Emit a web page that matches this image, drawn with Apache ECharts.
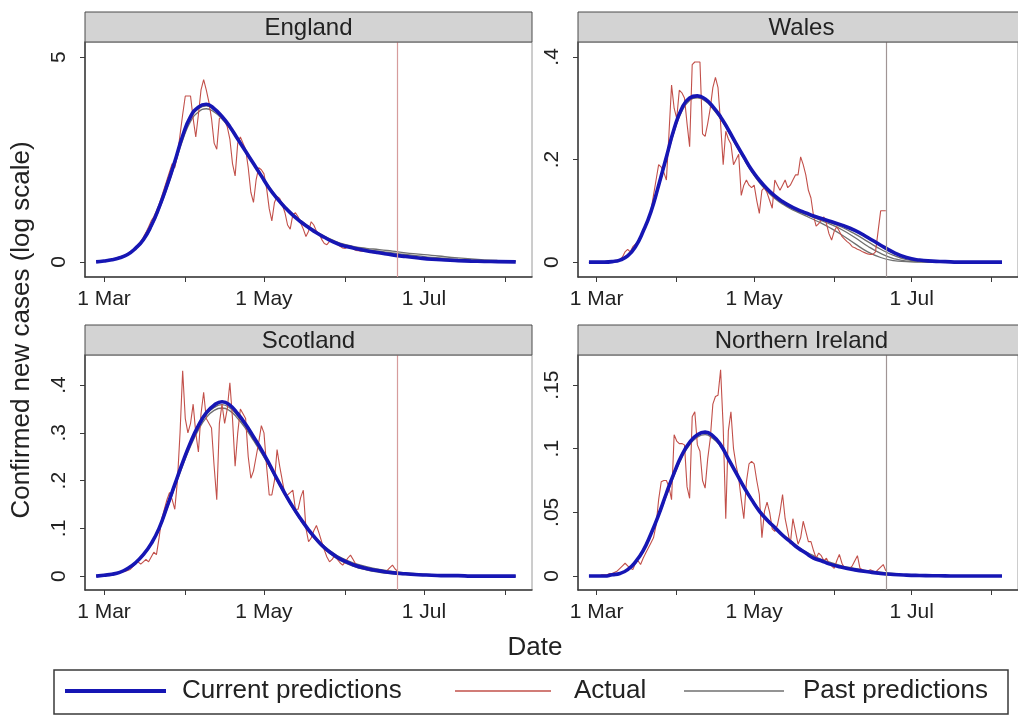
<!DOCTYPE html>
<html>
<head>
<meta charset="utf-8">
<script src="https://cdn.jsdelivr.net/npm/echarts@6/dist/echarts.min.js"></script>
<style>
html,body{margin:0;padding:0;background:#fff;}
#chart{width:1018px;height:717px;}
</style>
</head>
<body>
<div id="chart"></div>
<script>
// ---- Data (x = days since 1 March) ----
const PANEL_TITLES = ['England', 'Wales', 'Scotland', 'Northern Ireland'];
const TICK_DAYS = [0, 31, 61, 92, 122, 153];
const LABEL_DAYS = [0, 61, 122];
const LABEL_TEXT = ['1 Mar', '1 May', '1 Jul'];
const CUTOFF_DAY = 112;
const ACT_START = -3;

const ENG_Y_TICKS = [0, 5];            const ENG_Y_LABELS = ['0', '5'];
const WAL_Y_TICKS = [0, 0.2, 0.4];     const WAL_Y_LABELS = ['0', '.2', '.4'];
const SCO_Y_TICKS = [0, 0.1, 0.2, 0.3, 0.4]; const SCO_Y_LABELS = ['0', '.1', '.2', '.3', '.4'];
const NI_Y_TICKS = [0, 0.05, 0.1, 0.15]; const NI_Y_LABELS = ['0', '.05', '.1', '.15'];

const ENG_ACTUAL = [
 0,0.01,0.02,0.03,0.04,0.05,0.06,0.08,0.1,0.12,
 0.14,0.17,0.2,0.25,0.3,0.35,0.42,0.5,0.6,0.72,
 0.85,1.0,1.1,1.25,1.4,1.6,1.8,2.0,2.2,2.4,
 2.3,2.6,3.1,3.6,4.05,4.05,4.05,3.5,3.05,3.6,
 4.2,4.45,4.2,3.9,3.5,2.9,2.75,3.5,3.55,3.45,
 3.3,3.0,2.4,2.1,2.9,3.05,2.9,2.75,2.3,1.7,
 1.45,2.0,2.3,2.25,2.15,1.8,1.3,1.0,1.45,1.6,
 1.55,1.4,1.2,0.9,0.8,1.15,1.2,1.1,0.95,0.8,
 0.62,0.75,0.98,0.9,0.75,0.69,0.55,0.45,0.42,0.5,
 0.52,0.48,0.42,0.38,0.34,0.33,0.36,0.35,0.32,0.28,
 0.27,0.26,0.26,0.27,0.25,0.23,0.22,0.21,0.2,0.2,
 0.19,0.18,0.17,0.16,0.16,0.15];
const WAL_ACTUAL = [
 0,0,0,0,0,0,0,0.001,0.001,0.002,
 0.003,0.004,0.005,0.01,0.02,0.025,0.02,0.03,0.035,0.04,
 0.05,0.06,0.07,0.08,0.1,0.13,0.16,0.19,0.185,0.175,
 0.16,0.25,0.345,0.3,0.28,0.335,0.33,0.32,0.27,0.225,
 0.385,0.39,0.39,0.39,0.25,0.245,0.27,0.3,0.34,0.36,
 0.34,0.27,0.19,0.255,0.24,0.23,0.19,0.2,0.21,0.13,
 0.15,0.16,0.15,0.145,0.15,0.12,0.095,0.14,0.145,0.135,
 0.12,0.105,0.16,0.15,0.14,0.15,0.16,0.145,0.15,0.16,
 0.17,0.17,0.205,0.19,0.17,0.14,0.125,0.09,0.07,0.075,
 0.082,0.088,0.075,0.055,0.043,0.06,0.069,0.06,0.05,0.045,
 0.04,0.036,0.03,0.028,0.025,0.023,0.02,0.018,0.016,0.015,
 0.015,0.02,0.06,0.1,0.1,0.1];
const SCO_ACTUAL = [
 0,0,0.001,0.002,0.003,0.004,0.005,0.006,0.007,0.008,
 0.009,0.01,0.012,0.014,0.02,0.025,0.03,0.025,0.03,0.035,
 0.03,0.04,0.05,0.045,0.08,0.12,0.14,0.16,0.175,0.16,
 0.14,0.2,0.3,0.43,0.33,0.3,0.32,0.36,0.3,0.26,
 0.34,0.385,0.33,0.32,0.31,0.23,0.16,0.32,0.36,0.32,
 0.35,0.405,0.33,0.23,0.3,0.35,0.34,0.33,0.25,0.205,
 0.22,0.25,0.28,0.315,0.3,0.23,0.17,0.17,0.2,0.265,
 0.23,0.2,0.17,0.17,0.175,0.18,0.14,0.14,0.165,0.18,
 0.1,0.072,0.08,0.095,0.106,0.09,0.072,0.055,0.04,0.03,
 0.035,0.044,0.035,0.028,0.023,0.03,0.038,0.044,0.035,0.025,
 0.02,0.018,0.015,0.014,0.013,0.012,0.012,0.011,0.01,0.01,
 0.01,0.012,0.018,0.023,0.015,0.01];
const NI_ACTUAL = [
 0,0,0,0,0,0.001,0.001,0.001,0.002,0.002,
 0.003,0.004,0.006,0.008,0.01,0.008,0.006,0.005,0.01,0.012,
 0.009,0.014,0.018,0.022,0.026,0.03,0.04,0.06,0.074,0.075,
 0.075,0.07,0.06,0.111,0.106,0.104,0.104,0.103,0.07,0.061,
 0.125,0.129,0.103,0.098,0.075,0.069,0.092,0.108,0.135,0.141,
 0.142,0.162,0.117,0.045,0.114,0.129,0.1,0.087,0.077,0.06,
 0.045,0.074,0.088,0.09,0.088,0.075,0.064,0.03,0.051,0.058,
 0.05,0.037,0.035,0.04,0.05,0.064,0.045,0.035,0.025,0.045,
 0.035,0.025,0.03,0.043,0.035,0.027,0.027,0.02,0.014,0.018,
 0.016,0.012,0.014,0.01,0.008,0.006,0.012,0.017,0.01,0.006,
 0.005,0.006,0.008,0.012,0.016,0.006,0.005,0.004,0.004,0.005,
 0.004,0.003,0.005,0.007,0.009,0.004];

const PRED_DAYS = [-3,0,3,6,9,12,15,18,21,24,27,30,33,36,39,42,45,48,51,54,57,60,63,66,69,72,75,78,81,84,87,90,95,100,105,110,115,120,125,130,135,140,145,150,157];

const ENG_CURRENT = [0,0.02,0.05,0.1,0.18,0.33,0.54,0.88,1.33,1.86, 2.45,3.08,3.55,3.78,3.85,3.74,3.55,3.3,3.0,2.7, 2.4,2.1,1.8,1.55,1.33,1.14,0.98,0.84,0.71,0.6, 0.5,0.42,0.34,0.27,0.22,0.17,0.13,0.095,0.065,0.045, 0.03,0.018,0.01,0.005,0];
const ENG_PAST_1 = [0,0.02,0.05,0.09,0.17,0.31,0.51,0.84,1.27,1.79, 2.37,2.97,3.43,3.66,3.74,3.66,3.49,3.26,2.98,2.69, 2.4,2.11,1.83,1.58,1.36,1.17,1.01,0.87,0.74,0.63, 0.54,0.46,0.38,0.33,0.3,0.26,0.22,0.19,0.16,0.125, 0.095,0.07,0.05,0.035,0.02];
const ENG_PAST_2 = [0,0.02,0.05,0.1,0.18,0.32,0.53,0.86,1.3,1.83, 2.42,3.03,3.5,3.74,3.81,3.72,3.54,3.29,3.0,2.7, 2.4,2.1,1.81,1.56,1.34,1.15,0.99,0.85,0.72,0.61, 0.52,0.44,0.36,0.3,0.26,0.22,0.18,0.145,0.11,0.085, 0.06,0.042,0.028,0.018,0.008];

const WAL_CURRENT = [0,0,0,0.001,0.004,0.012,0.03,0.06,0.098,0.15, 0.205,0.26,0.3,0.32,0.324,0.318,0.303,0.283,0.258,0.231, 0.205,0.18,0.16,0.143,0.129,0.118,0.109,0.102,0.096,0.09, 0.085,0.08,0.072,0.062,0.048,0.033,0.019,0.009,0.004,0.002, 0.001,0,0,0,0];
const WAL_PAST_1 = [0,0,0,0.001,0.004,0.012,0.029,0.058,0.095,0.146, 0.2,0.254,0.294,0.315,0.32,0.314,0.299,0.279,0.254,0.227, 0.201,0.176,0.155,0.138,0.124,0.113,0.104,0.097,0.09,0.083, 0.076,0.068,0.053,0.036,0.02,0.009,0.003,0.001,0,0, 0,0,0,0,0];
const WAL_PAST_2 = [0,0,0,0.001,0.004,0.012,0.03,0.059,0.097,0.148, 0.203,0.257,0.297,0.318,0.322,0.316,0.301,0.281,0.256,0.229, 0.203,0.178,0.157,0.14,0.126,0.115,0.106,0.099,0.093,0.087, 0.081,0.075,0.063,0.048,0.031,0.017,0.007,0.002,0.001,0, 0,0,0,0,0];
const WAL_PAST_3 = [0,0,0,0.001,0.004,0.012,0.03,0.06,0.098,0.15, 0.205,0.259,0.299,0.319,0.323,0.317,0.302,0.282,0.257,0.23, 0.204,0.179,0.158,0.141,0.128,0.117,0.108,0.1,0.095,0.089, 0.084,0.078,0.068,0.055,0.04,0.025,0.013,0.005,0.002,0.001, 0,0,0,0,0];

const SCO_CURRENT = [0,0.002,0.004,0.008,0.016,0.028,0.045,0.068,0.1,0.145, 0.192,0.238,0.28,0.315,0.342,0.358,0.365,0.358,0.34,0.318, 0.292,0.265,0.235,0.203,0.173,0.145,0.12,0.097,0.077,0.06, 0.047,0.036,0.024,0.016,0.011,0.007,0.005,0.003,0.002,0.001, 0.001,0,0,0,0];
const SCO_PAST_1 = [0,0.002,0.004,0.008,0.015,0.027,0.043,0.066,0.097,0.14, 0.186,0.231,0.272,0.306,0.332,0.347,0.352,0.346,0.33,0.309, 0.284,0.258,0.23,0.2,0.171,0.144,0.12,0.098,0.079,0.063, 0.05,0.04,0.028,0.02,0.014,0.01,0.007,0.005,0.003,0.002, 0.001,0.001,0,0,0];
const SCO_PAST_2 = [0,0.002,0.004,0.008,0.016,0.028,0.044,0.067,0.099,0.143, 0.19,0.235,0.277,0.311,0.338,0.353,0.359,0.352,0.335,0.313, 0.287,0.26,0.231,0.2,0.17,0.142,0.117,0.094,0.074,0.057, 0.044,0.033,0.021,0.013,0.008,0.005,0.003,0.002,0.001,0, 0,0,0,0,0];

const NI_CURRENT = [0,0,0,0.001,0.002,0.005,0.011,0.02,0.033,0.048, 0.065,0.081,0.095,0.105,0.111,0.113,0.11,0.103,0.092,0.081, 0.07,0.06,0.051,0.044,0.038,0.032,0.027,0.022,0.018,0.014, 0.012,0.0095,0.0068,0.0048,0.0033,0.002,0.0012,0.0007,0.0004,0.0002, 0.0001,0,0,0,0];
const NI_PAST_1 = [0,0,0,0.001,0.002,0.005,0.011,0.019,0.032,0.047, 0.063,0.079,0.093,0.103,0.109,0.111,0.108,0.102,0.092,0.081, 0.071,0.061,0.052,0.045,0.039,0.033,0.028,0.023,0.019,0.016, 0.013,0.011,0.008,0.006,0.004,0.003,0.002,0.001,0.001,0, 0,0,0,0,0];

// ---- Styling / layout ----
const FONT = "'Liberation Sans', Arial, sans-serif";
const BLUE = '#1616b4', RED = '#c2504a', GRAY = '#707070';
const GRIDS = [
  {left: 85, top: 42, width: 447, height: 235},
  {left: 578, top: 42, width: 447, height: 235},
  {left: 85, top: 355, width: 447, height: 235},
  {left: 578, top: 355, width: 447, height: 235}
];
const HEADER_H = 30;
const Y_RANGES = [[-0.37, 5.37], [-0.029, 0.429], [-0.029, 0.463], [-0.011, 0.1736]];
const Y_TICKS = [ENG_Y_TICKS, WAL_Y_TICKS, SCO_Y_TICKS, NI_Y_TICKS];
const Y_LABELS = [ENG_Y_LABELS, WAL_Y_LABELS, SCO_Y_LABELS, NI_Y_LABELS];
const CUT_COLORS = ['#d69c9c', '#a09595', '#d69c9c', '#a09595'];
const PANELS = [
  {actual: ENG_ACTUAL, current: ENG_CURRENT, past: [ENG_PAST_1, ENG_PAST_2]},
  {actual: WAL_ACTUAL, current: WAL_CURRENT, past: [WAL_PAST_1, WAL_PAST_2, WAL_PAST_3]},
  {actual: SCO_ACTUAL, current: SCO_CURRENT, past: [SCO_PAST_1, SCO_PAST_2]},
  {actual: NI_ACTUAL, current: NI_CURRENT, past: [NI_PAST_1]}
];

function lookup(ticks, labels, v) {
  for (let i = 0; i < ticks.length; i++) if (Math.abs(ticks[i] - v) < 1e-9) return labels[i];
  return '';
}

const grid = GRIDS.map(g => Object.assign({show: true, borderColor: '#9a9a9a', borderWidth: 1, backgroundColor: '#fff', containLabel: false}, g));

const xAxis = GRIDS.map((g, i) => ({
  type: 'value', gridIndex: i, min: -7.24, max: 163.2,
  axisLine: {show: true, onZero: false, lineStyle: {color: '#3a3a3a', width: 1.5}},
  axisTick: {show: true, customValues: TICK_DAYS, length: 5, lineStyle: {color: '#3a3a3a', width: 1}},
  axisLabel: {show: true, customValues: LABEL_DAYS, margin: 12, color: '#222', fontSize: 21, fontFamily: FONT,
    formatter: v => lookup(LABEL_DAYS, LABEL_TEXT, v)},
  splitLine: {show: false}
}));

const yAxis = GRIDS.map((g, i) => ({
  type: 'value', gridIndex: i, min: Y_RANGES[i][0], max: Y_RANGES[i][1],
  axisLine: {show: true, onZero: false, lineStyle: {color: '#3a3a3a', width: 1.5}},
  axisTick: {show: true, customValues: Y_TICKS[i], length: 5, lineStyle: {color: '#3a3a3a', width: 1}},
  axisLabel: {show: true, customValues: Y_TICKS[i], rotate: 90, margin: 15, color: '#222', fontSize: 21, fontFamily: FONT,
    formatter: v => lookup(Y_TICKS[i], Y_LABELS[i], v)},
  splitLine: {show: false}
}));

const series = [];
PANELS.forEach((p, i) => {
  p.past.forEach(arr => {
    series.push({
      name: 'Past predictions', type: 'line', xAxisIndex: i, yAxisIndex: i,
      data: PRED_DAYS.map((d, k) => [d, arr[k]]), smooth: true, showSymbol: false,
      color: GRAY, lineStyle: {color: GRAY, width: 1.3}, z: 2, silent: true
    });
  });
  series.push({
    name: 'Actual', type: 'line', xAxisIndex: i, yAxisIndex: i,
    data: p.actual.map((v, k) => [ACT_START + k, v]), showSymbol: false,
    color: RED, lineStyle: {color: RED, width: 1.1}, z: 3, silent: true,
    markLine: {silent: true, symbol: 'none', label: {show: false},
      lineStyle: {color: CUT_COLORS[i], width: 1.2, type: 'solid'},
      data: [{xAxis: CUTOFF_DAY}]}
  });
  series.push({
    name: 'Current predictions', type: 'line', xAxisIndex: i, yAxisIndex: i,
    data: PRED_DAYS.map((d, k) => [d, p.current[k]]), smooth: true, showSymbol: false,
    color: BLUE, lineStyle: {color: BLUE, width: 3.6}, z: 4, silent: true
  });
});

const graphic = [];
GRIDS.forEach((g, i) => {
  graphic.push({type: 'rect', z: 50, shape: {x: g.left, y: g.top - HEADER_H, width: g.width, height: HEADER_H},
    style: {fill: '#d3d3d3', stroke: '#4a4a4a', lineWidth: 1}});
  graphic.push({type: 'text', z: 51, x: g.left + g.width / 2, y: g.top - HEADER_H / 2 + 1,
    style: {text: PANEL_TITLES[i], align: 'center', verticalAlign: 'middle', fontSize: 24, fontFamily: FONT, fill: '#222'}});
});
graphic.push({type: 'text', z: 51, x: 22, y: 330, rotation: Math.PI / 2,
  style: {text: 'Confirmed new cases (log scale)', align: 'center', verticalAlign: 'middle', fontSize: 26, fontFamily: FONT, fill: '#222'}});
graphic.push({type: 'text', z: 51, x: 535, y: 648,
  style: {text: 'Date', align: 'center', verticalAlign: 'middle', fontSize: 26, fontFamily: FONT, fill: '#222'}});
graphic.push({type: 'rect', z: 50, shape: {x: 54, y: 670, width: 954, height: 44},
  style: {fill: '#fff', stroke: '#3a3a3a', lineWidth: 1.5}});

const legendBase = {selectedMode: false, icon: 'rect', padding: 0, top: 678, z: 60};
const legendText = pad => ({fontSize: 26, fontFamily: FONT, color: '#222', padding: [0, 0, 0, pad]});
const legend = [
  Object.assign({}, legendBase, {left: 65, itemWidth: 101, itemHeight: 4, textStyle: legendText(11), data: ['Current predictions']}),
  Object.assign({}, legendBase, {left: 455, itemWidth: 96, itemHeight: 1.5, textStyle: legendText(18), data: ['Actual']}),
  Object.assign({}, legendBase, {left: 684, itemWidth: 100, itemHeight: 1.5, textStyle: legendText(14), data: ['Past predictions']})
];

const chart = echarts.init(document.getElementById('chart'), null, {renderer: 'canvas'});
chart.setOption({
  animation: false,
  backgroundColor: '#ffffff',
  grid, xAxis, yAxis, series, graphic, legend
});
</script>
</body>
</html>
